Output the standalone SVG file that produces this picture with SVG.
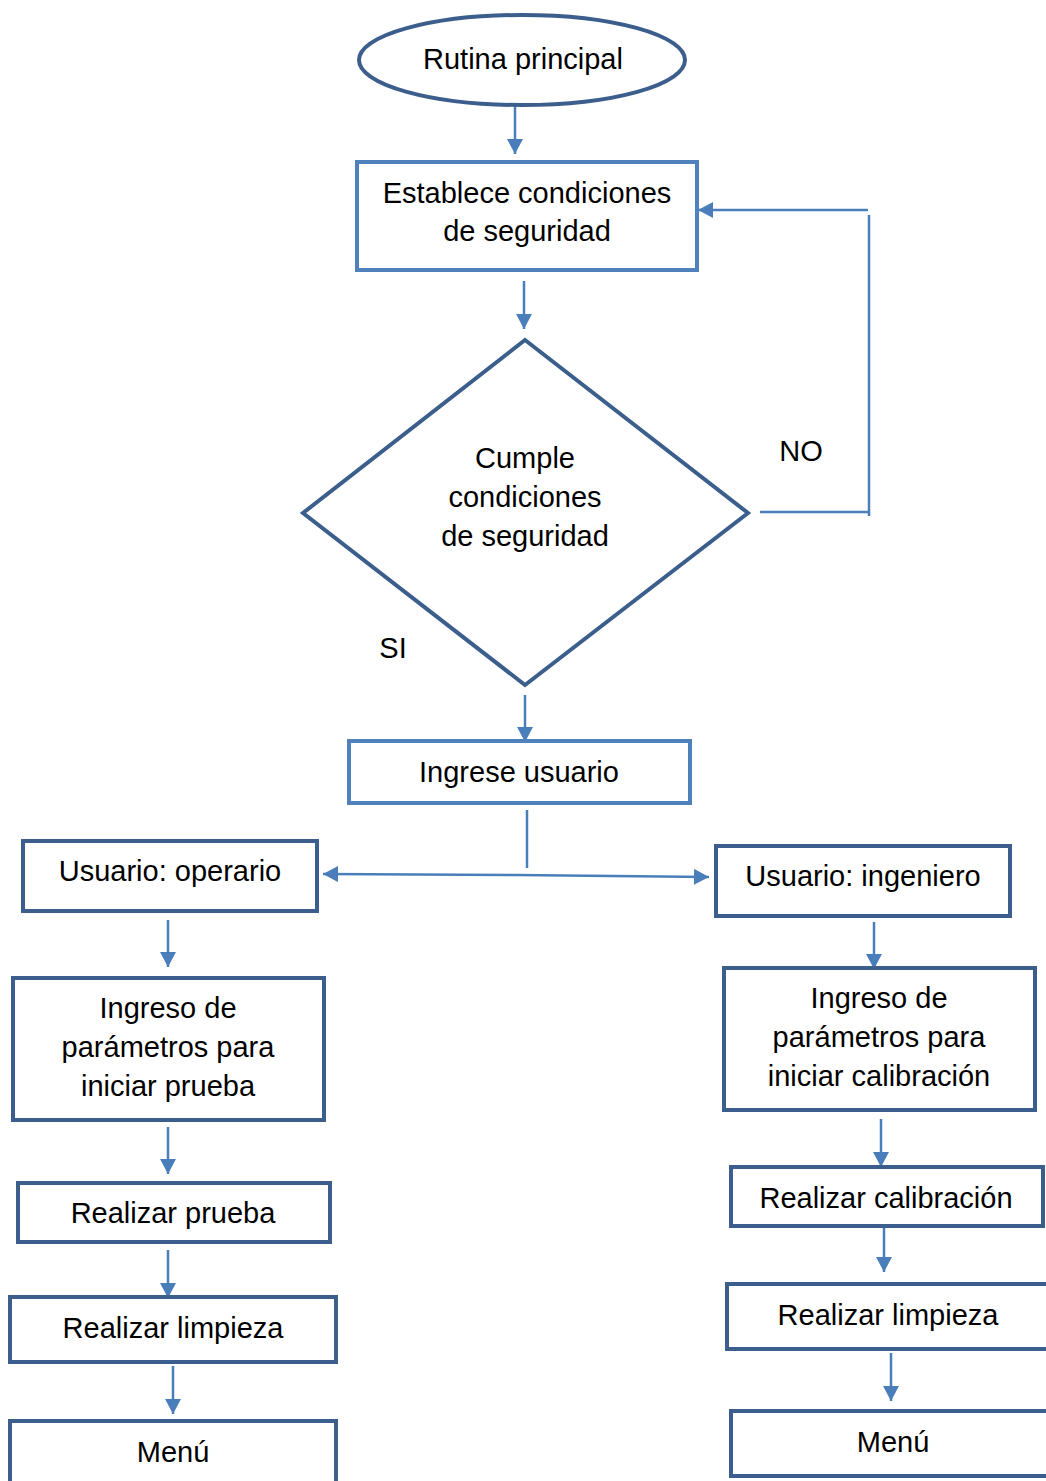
<svg xmlns="http://www.w3.org/2000/svg" width="1046" height="1481" viewBox="0 0 1046 1481">
<defs>
<marker id="ah" markerWidth="15" markerHeight="16" refX="15" refY="8" orient="auto" markerUnits="userSpaceOnUse" viewBox="0 0 15 16">
<path d="M0,0 L15,8 L0,16 z" fill="#4A7EBB"/>
</marker>
<style>
.d{fill:#fff;stroke:#3B5E8C;stroke-width:4}
.l{fill:#fff;stroke:#4F81BD;stroke-width:4}
.c{fill:none;stroke:#4A7EBB;stroke-width:2.5}
.ca{fill:none;stroke:#4A7EBB;stroke-width:2.5;marker-end:url(#ah)}
text{font-family:"Liberation Sans",Arial,sans-serif;font-size:29px;fill:#000;text-anchor:middle}
</style>
</defs>
<rect width="1046" height="1481" fill="#fff"/>
<g id="connectors">
<line class="ca" x1="515" y1="106" x2="515" y2="154"/>
<line class="ca" x1="524" y1="281" x2="524" y2="329"/>
<line class="c" x1="760" y1="512" x2="870" y2="512"/>
<line class="c" x1="869" y1="215" x2="869" y2="516"/>
<line class="ca" x1="868" y1="210" x2="698" y2="210"/>
<line class="ca" x1="525" y1="695" x2="525" y2="742"/>
<line class="c" x1="527" y1="810" x2="527" y2="868"/>
<line class="ca" x1="516" y1="875" x2="323" y2="874"/>
<line class="ca" x1="516" y1="875" x2="709" y2="877"/>
<line class="ca" x1="168" y1="920" x2="168" y2="967"/>
<line class="ca" x1="874" y1="922" x2="874" y2="969"/>
<line class="ca" x1="168" y1="1127" x2="168" y2="1174"/>
<line class="ca" x1="168" y1="1250" x2="168" y2="1298"/>
<line class="ca" x1="173" y1="1366" x2="173" y2="1414"/>
<line class="ca" x1="881" y1="1119" x2="881" y2="1167"/>
<line class="ca" x1="884" y1="1228" x2="884" y2="1272"/>
<line class="ca" x1="891" y1="1353" x2="891" y2="1401"/>
</g>
<g id="n-rutina">
<ellipse class="d" cx="522" cy="60" rx="163" ry="45"/>
<text x="523" y="69">Rutina principal</text>
</g>
<g id="n-establece">
<rect class="l" x="357" y="162" width="340" height="108"/>
<text x="527" y="203">Establece condiciones</text>
<text x="527" y="241">de seguridad</text>
</g>
<g id="n-cumple">
<polygon class="d" points="525,340 748,513 525,685 303,513"/>
<text x="525" y="468">Cumple</text>
<text x="525" y="507">condiciones</text>
<text x="525" y="546">de seguridad</text>
</g>
<g id="labels">
<text x="801" y="461">NO</text>
<text x="393" y="658">SI</text>
</g>
<g id="n-ingrese">
<rect class="l" x="349" y="741" width="341" height="62"/>
<text x="519" y="782">Ingrese usuario</text>
</g>
<g id="n-operario">
<rect class="d" x="23" y="841" width="294" height="70"/>
<text x="170" y="881">Usuario: operario</text>
</g>
<g id="n-ingeniero">
<rect class="d" x="716" y="846" width="294" height="70"/>
<text x="863" y="886">Usuario: ingeniero</text>
</g>
<g id="n-param-prueba">
<rect class="d" x="13" y="978" width="311" height="142"/>
<text x="168" y="1018">Ingreso de</text>
<text x="168" y="1057">parámetros para</text>
<text x="168" y="1096">iniciar prueba</text>
</g>
<g id="n-param-calib">
<rect class="d" x="724" y="968" width="311" height="142"/>
<text x="879" y="1008">Ingreso de</text>
<text x="879" y="1047">parámetros para</text>
<text x="879" y="1086">iniciar calibración</text>
</g>
<g id="n-prueba">
<rect class="d" x="18" y="1183" width="312" height="59"/>
<text x="173" y="1223">Realizar prueba</text>
</g>
<g id="n-calibracion">
<rect class="d" x="731" y="1167" width="312" height="59"/>
<text x="886" y="1208">Realizar calibración</text>
</g>
<g id="n-limpieza-l">
<rect class="d" x="10" y="1297" width="326" height="65"/>
<text x="173" y="1338">Realizar limpieza</text>
</g>
<g id="n-limpieza-r">
<rect class="d" x="727" y="1284" width="330" height="65"/>
<text x="888" y="1325">Realizar limpieza</text>
</g>
<g id="n-menu-l">
<rect class="d" x="10" y="1421" width="326" height="70"/>
<text x="173" y="1462">Menú</text>
</g>
<g id="n-menu-r">
<rect class="d" x="731" y="1411" width="330" height="65"/>
<text x="893" y="1452">Menú</text>
</g>
</svg>
